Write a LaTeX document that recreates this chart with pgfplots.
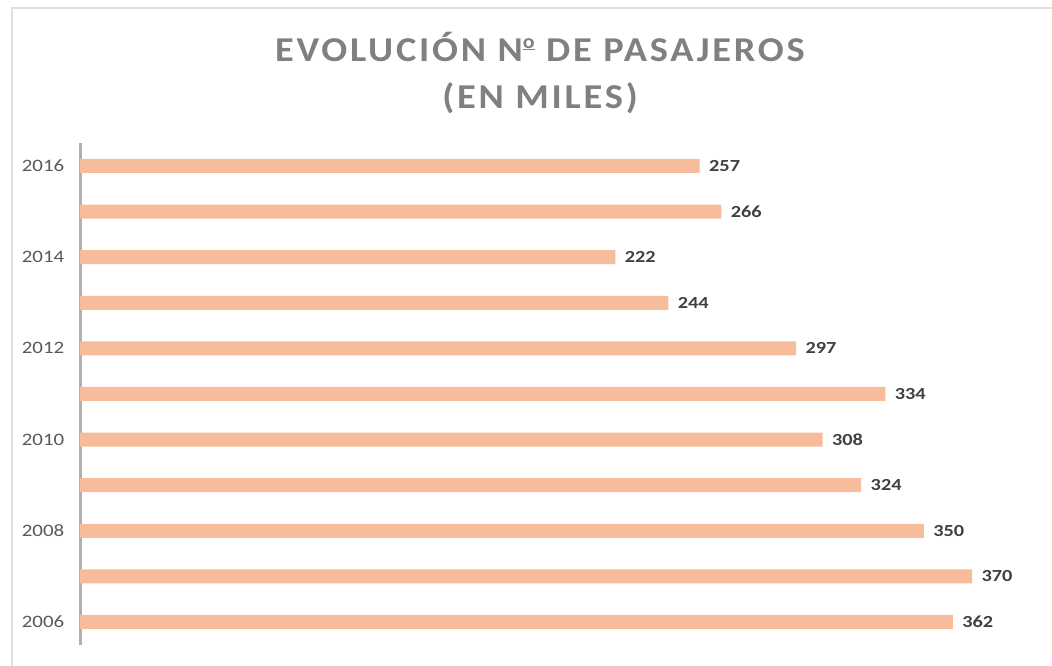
\documentclass[border=0pt]{standalone}
\usepackage{fontspec}
\setmainfont{Carlito}[FakeStretch=1.2]
\newfontfamily\titlefont{Carlito}[LetterSpace=8,FakeStretch=1.1]
\usepackage{pgfplots}
\pgfplotsset{compat=1.18}
\definecolor{barfill}{HTML}{F6BC9C}
\definecolor{titlegray}{HTML}{808080}
\definecolor{ticklab}{HTML}{595959}
\definecolor{vallab}{HTML}{404040}
\definecolor{axisgray}{HTML}{B0B0B0}

\begin{document}
\begin{tikzpicture}[x=1bp,y=1bp]
\useasboundingbox (0,0) rectangle (1052,666);
\fill[white] (0,0) rectangle (1052,666);
% light frame of the chart area
\draw[black!12, line width=1.5bp] (12,0) -- (12,658) -- (1052,658);
\node[font=\titlefont\fontsize{35}{47}\selectfont\bfseries, text=titlegray, align=center]
  at (540,593) {EVOLUCIÓN N\raisebox{0.8ex}{\underline{\fontsize{20}{20}\selectfont o}} DE PASAJEROS\\(EN MILES)};
\begin{axis}[
  at={(80bp,21.2bp)}, anchor=south west,
  scale only axis,
  width=964.4bp, height=501.6bp,
  xbar, bar width=14bp,
  xmin=0, xmax=400,
  ymin=2005.5, ymax=2016.5,
  axis x line=none,
  axis y line*=left,
  y axis line style={draw=axisgray, line width=3bp, -},
  ytick={2006,2008,2010,2012,2014,2016},
  yticklabels={2006,2008,2010,2012,2014,2016},
  ytick style={draw=none},
  yticklabel style={font=\fontsize{17.5}{20}\selectfont, text=ticklab, xshift=-8bp},
  /pgf/number format/assume math mode=true,
  nodes near coords,
  nodes near coords style={font=\fontsize{17}{20}\selectfont\bfseries, text=vallab, anchor=west, xshift=6bp},
  clip=false,
]
\addplot[draw=none, fill=barfill] coordinates {
  (362,2006) (370,2007) (350,2008) (324,2009) (308,2010) (334,2011)
  (297,2012) (244,2013) (222,2014) (266,2015) (257,2016)
};
\end{axis}
\end{tikzpicture}
\end{document}
